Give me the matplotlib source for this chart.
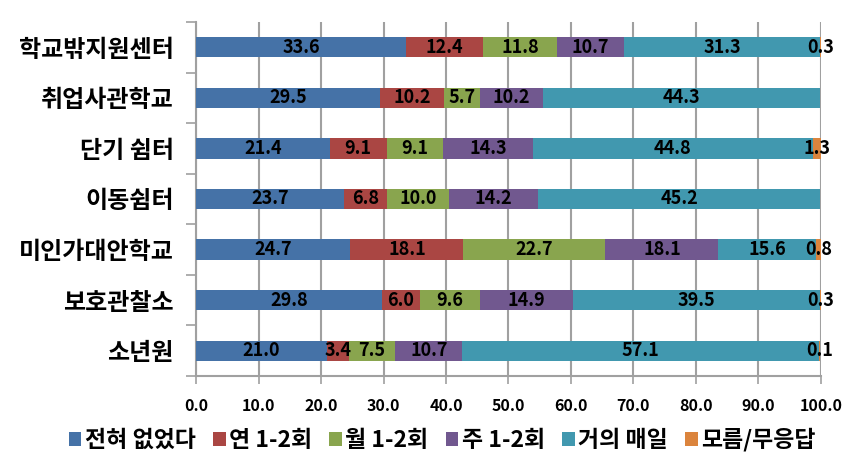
import matplotlib
matplotlib.use("Agg")
import matplotlib.pyplot as plt
import numpy as np

plt.rcParams['font.family'] = ['Noto Sans CJK KR', 'DejaVu Sans']

categories = ["학교밖지원센터", "취업사관학교", "단기 쉼터", "이동쉼터", "미인가대안학교", "보호관찰소", "소년원"]
series_names = ["전혀 없었다", "연 1-2회", "월 1-2회", "주 1-2회", "거의 매일", "모름/무응답"]
never = [33.6, 29.5, 21.4, 23.7, 24.7, 29.8, 21.0]
yearly = [12.4, 10.2, 9.1, 6.8, 18.1, 6.0, 3.4]
monthly = [11.8, 5.7, 9.1, 10.0, 22.7, 9.6, 7.5]
weekly = [10.7, 10.2, 14.3, 14.2, 18.1, 14.9, 10.7]
daily = [31.3, 44.3, 44.8, 45.2, 15.6, 39.5, 57.1]
unknown = [0.3, 0.0, 1.3, 0.0, 0.8, 0.3, 0.1]
xticks = [0, 10, 20, 30, 40, 50, 60, 70, 80, 90, 100]

colors = ["#4572A7", "#AA4643", "#89A54E", "#71588F", "#4198AF", "#DB843D"]
data = [never, yearly, monthly, weekly, daily, unknown]

fig = plt.figure(figsize=(8.62, 4.72), dpi=100)
ax = fig.add_axes([0.2274, 0.2034, 0.9524 - 0.2274, 0.9534 - 0.2034])

n = len(categories)
y = np.arange(n)
left = np.zeros(n)
for vals, name, c in zip(data, series_names, colors):
    vals = np.array(vals)
    ax.barh(y, vals, left=left, height=0.4, color=c, label=name, zorder=3)
    for yi, l, v in zip(y, left, vals):
        if v > 0:
            ax.text(l + v / 2, yi, f"{v:.1f}", ha="center", va="center",
                    fontsize=13, fontweight="bold", color="black", zorder=4)
    left = left + vals

ax.set_xlim(0, 100)
ax.set_ylim(n - 0.5, -0.5)
ax.set_xticks(xticks)
ax.set_xticklabels([f"{t:.1f}" for t in xticks], fontsize=11.5, fontweight="bold")
ax.tick_params(axis="x", direction="out", length=6, width=1.2, color="#A0A0A0", pad=10)

ax.set_yticks(np.arange(-0.5, n, 1.0))
ax.set_yticklabels([])
ax.tick_params(axis="y", which="major", direction="out", length=7, width=1.2, color="#A0A0A0")
ax.set_yticks(y, minor=True)
ax.set_yticklabels(categories, minor=True, fontsize=17.3, fontweight="bold")
ax.tick_params(axis="y", which="minor", length=0, pad=16)

ax.grid(axis="x", color="#A0A0A0", linewidth=1.5, zorder=0)
for s in ["top", "right"]:
    ax.spines[s].set_visible(False)
for s in ["left", "bottom"]:
    ax.spines[s].set_color("#A0A0A0")
    ax.spines[s].set_linewidth(1.5)

leg = fig.legend(loc="center", bbox_to_anchor=(0.513, 0.068), ncol=6, frameon=False,
                 prop={"size": 16.5, "weight": "bold"}, handlelength=0.55, handleheight=0.55,
                 handletextpad=0.15, columnspacing=0.75)

fig.savefig("out.png", dpi=100)
